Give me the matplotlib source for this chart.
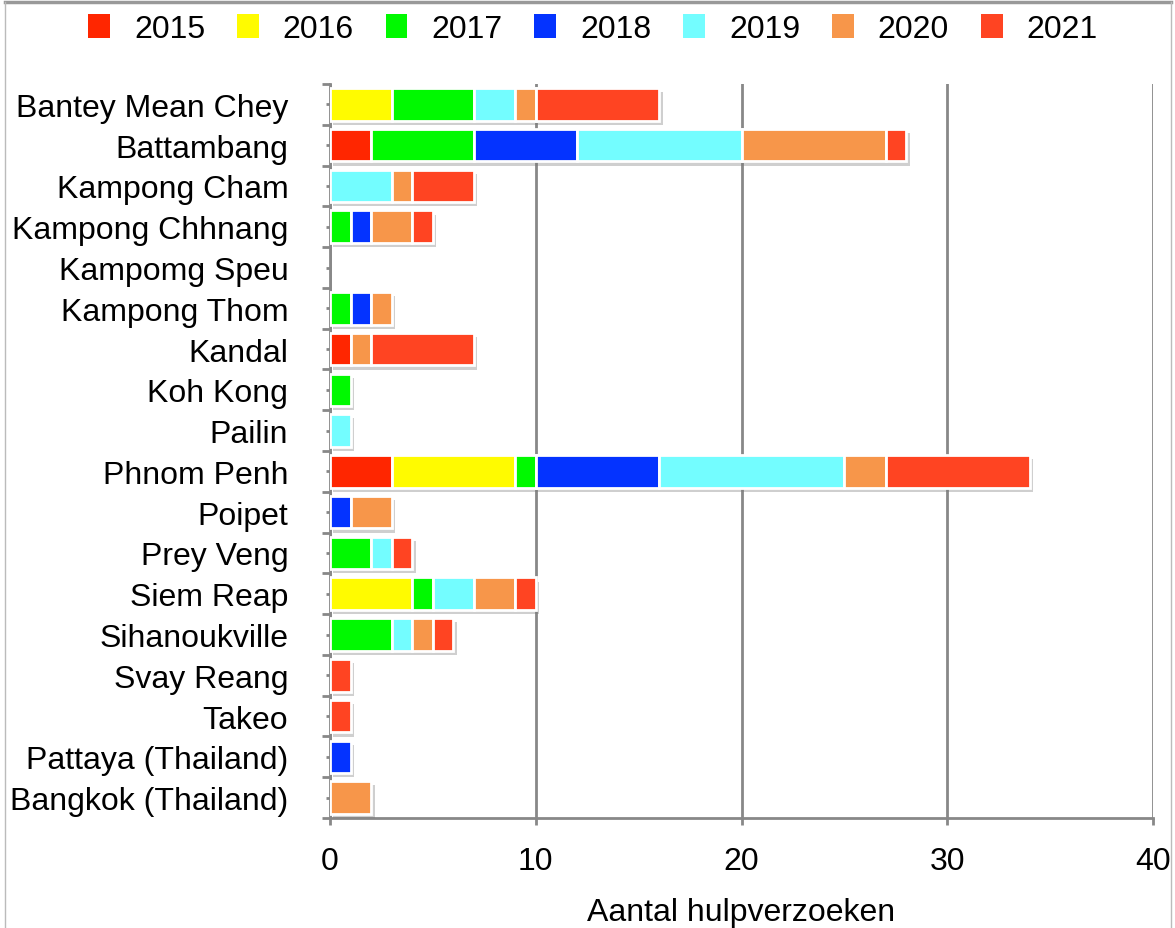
import matplotlib
matplotlib.use("Agg")
import matplotlib.pyplot as plt
import matplotlib.patheffects as pe
from matplotlib.lines import Line2D
import numpy as np

plt.rcParams['font.family'] = ['Liberation Sans', 'DejaVu Sans']

categories = ["Bantey Mean Chey", "Battambang", "Kampong Cham", "Kampong Chhnang",
              "Kampomg Speu", "Kampong Thom", "Kandal", "Koh Kong", "Pailin",
              "Phnom Penh", "Poipet", "Prey Veng", "Siem Reap", "Sihanoukville",
              "Svay Reang", "Takeo", "Pattaya (Thailand)", "Bangkok (Thailand)"]
years = ["2015", "2016", "2017", "2018", "2019", "2020", "2021"]

v2015 = [0, 2, 0, 0, 0, 0, 1, 0, 0, 3, 0, 0, 0, 0, 0, 0, 0, 0]
v2016 = [3, 0, 0, 0, 0, 0, 0, 0, 0, 6, 0, 0, 4, 0, 0, 0, 0, 0]
v2017 = [4, 5, 0, 1, 0, 1, 0, 1, 0, 1, 0, 2, 1, 3, 0, 0, 0, 0]
v2018 = [0, 5, 0, 1, 0, 1, 0, 0, 0, 6, 1, 0, 0, 0, 0, 0, 1, 0]
v2019 = [2, 8, 3, 0, 0, 0, 0, 0, 1, 9, 0, 1, 2, 1, 0, 0, 0, 0]
v2020 = [1, 7, 1, 2, 0, 1, 1, 0, 0, 2, 2, 0, 2, 1, 0, 0, 0, 2]
v2021 = [6, 1, 3, 1, 0, 0, 5, 0, 0, 7, 0, 1, 1, 1, 1, 1, 0, 0]
series = [v2015, v2016, v2017, v2018, v2019, v2020, v2021]
colors = ["#FF2600", "#FFFB00", "#00F900", "#0433FF", "#73FDFF", "#F7964A", "#FF4422"]

FS = 23

fig = plt.figure(figsize=(11.75, 9.29), dpi=100)
ax = fig.add_axes([330/1175, 1-819/929, (1153-330)/1175, (819-85)/929])

n = len(categories)
y = np.arange(n)
left = np.zeros(n)
shadow = [pe.SimplePatchShadow(offset=(2.5, -3), shadow_rgbFace='#777777', alpha=0.35), pe.Normal()]
handles = []
for vals, col, yr in zip(series, colors, years):
    vals = np.array(vals, dtype=float)
    mask = vals > 0
    bars = ax.barh(y[mask], vals[mask], left=left[mask], height=0.8, color=col,
                   edgecolor='white', linewidth=2.0, zorder=3)
    for b in bars:
        b.set_path_effects(shadow)
    handles.append(plt.Rectangle((0, 0), 1, 1, facecolor=col, edgecolor='none'))
    left += vals

ax.set_xlim(0, 40)
ax.set_ylim(n - 0.5, -0.5)
ax.set_xticks([0, 10, 20, 30, 40])
ax.set_yticks(y)
ax.set_yticklabels(categories)
ax.set_yticks(np.arange(-0.5, n, 1), minor=True)
ax.tick_params(axis='y', which='major', length=3, width=2, color='#888888', pad=27, labelsize=FS)
ax.tick_params(axis='y', which='minor', length=6, width=2, color='#888888')
ax.tick_params(axis='x', which='major', length=5, width=2, color='#888888', pad=15, labelsize=FS)
ax.xaxis.grid(True, color='#888888', linewidth=2.0, zorder=0)
ax.set_axisbelow(True)
for s in ['top', 'right']:
    ax.spines[s].set_visible(False)
for s in ['left', 'bottom']:
    ax.spines[s].set_color('#888888')
    ax.spines[s].set_linewidth(2.0)

fig.text(741/1175, 8/929, "Aantal hulpverzoeken", ha='center', va='baseline', fontsize=FS)

leg = fig.legend(handles, years, loc='center', bbox_to_anchor=(593/1175, 1-30/929),
                 ncol=7, frameon=False, fontsize=FS, handlelength=0.68, handleheight=0.8,
                 handletextpad=0.75, columnspacing=1.0, borderaxespad=0)

# figure frame
fig.add_artist(Line2D([5/1175, 1171/1175], [1-3/929, 1-3/929], color='#999999', linewidth=2.5))
fig.add_artist(Line2D([5/1175, 5/1175], [0, 1-3/929], color='#bbbbbb', linewidth=1.0))
fig.add_artist(Line2D([1171/1175, 1171/1175], [0, 1-3/929], color='#bbbbbb', linewidth=1.0))

fig.savefig("out.png", dpi=100)
